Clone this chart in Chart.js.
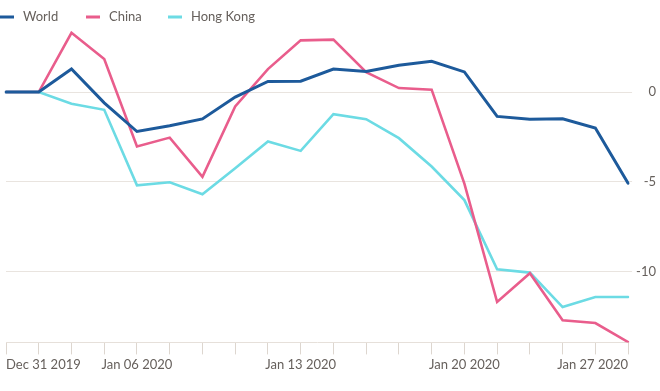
<!DOCTYPE html>
<html lang="en">
<head>
  <meta charset="UTF-8" />
  <title>World, China and Hong Kong</title>
  <script src="https://cdn.jsdelivr.net/npm/chart.js"></script>
  <style>
    html, body {
      margin: 0;
      padding: 0;
      background: #ffffff;
    }
    #wrap {
      width: 660px;
      height: 391px;
      position: relative;
    }
  </style>
</head>
<body>
  <div id="wrap">
    <canvas id="chart"></canvas>
  </div>

  <script>
    const dates = [
      "Dec 31 2019", "Jan 01 2020", "Jan 02 2020", "Jan 03 2020", "Jan 06 2020",
      "Jan 07 2020", "Jan 08 2020", "Jan 09 2020", "Jan 10 2020", "Jan 13 2020",
      "Jan 14 2020", "Jan 15 2020", "Jan 16 2020", "Jan 17 2020", "Jan 20 2020",
      "Jan 21 2020", "Jan 22 2020", "Jan 23 2020", "Jan 24 2020", "Jan 27 2020"
    ];
    const shownDates = ["Dec 31 2019", "Jan 06 2020", "Jan 13 2020", "Jan 20 2020", "Jan 27 2020"];

    const world = [0, 0, 1.28, -0.6, -2.2, -1.88, -1.5, -0.28, 0.59, 0.6,
                   1.28, 1.15, 1.49, 1.71, 1.12, -1.36, -1.51, -1.49, -2.01, -5.08];
    const china = [0, 0, 3.3, 1.84, -3.03, -2.54, -4.73, -0.8, 1.28, 2.88,
                   2.92, 1.1, 0.22, 0.13, -5.1, -11.7, -10.1, -12.72, -12.87, -13.93];
    const hongKong = [0, 0, -0.65, -0.99, -5.2, -5.03, -5.7, -4.25, -2.76, -3.28,
                      -1.23, -1.51, -2.57, -4.15, -6.02, -9.88, -10.06, -11.98, -11.42, -11.42];

    const yTicks = [-10, -5, 0];

    const textColor = "#66605c";
    const gridColor = "#e9e4df";
    const fontFamily = "Lato, 'Open Sans', sans-serif";

    // simple legend: short coloured bar then the series name
    const lineLegend = {
      id: "lineLegend",
      afterDraw(chart) {
        const ctx = chart.ctx;
        const xs = [0, 86, 168];
        ctx.save();
        ctx.font = "13px " + fontFamily;
        ctx.textBaseline = "middle";
        chart.data.datasets.forEach((ds, i) => {
          const x = xs[i];
          ctx.fillStyle = ds.borderColor;
          ctx.fillRect(x, 15.5, 14, 3);
          ctx.fillStyle = textColor;
          ctx.fillText(ds.label, x + 23, 17);
        });
        ctx.restore();
      }
    };

    new Chart(document.getElementById("chart"), {
      type: "line",
      data: {
        labels: dates,
        datasets: [
          { label: "World", data: world, borderColor: "#1d5a9b", borderWidth: 3 },
          { label: "China", data: china, borderColor: "#e95d8c", borderWidth: 2.6 },
          { label: "Hong Kong", data: hongKong, borderColor: "#6cdbe4", borderWidth: 2.6 }
        ]
      },
      options: {
        responsive: true,
        maintainAspectRatio: false,
        animation: false,
        layout: { padding: { left: 6, top: 31, right: 4, bottom: 15 } },
        elements: {
          point: { radius: 0 },
          line: { tension: 0, borderCapStyle: "round", borderJoinStyle: "miter" }
        },
        plugins: {
          legend: { display: false },
          tooltip: { enabled: false }
        },
        scales: {
          x: {
            type: "category",
            offset: false,
            grid: {
              drawOnChartArea: false,
              drawTicks: true,
              tickLength: 12,
              color: "#ddd6cf"
            },
            border: { display: true, color: "#e6e0da" },
            ticks: {
              autoSkip: false,
              maxRotation: 0,
              align: "inner",
              padding: 3,
              color: textColor,
              font: { family: fontFamily, size: 13 },
              callback(value) {
                const l = this.getLabelForValue(value);
                return shownDates.includes(l) ? l : "";
              }
            }
          },
          y: {
            position: "right",
            min: -13.95,
            max: 3.4,
            afterBuildTicks(scale) {
              scale.ticks = yTicks.map(v => ({ value: v }));
            },
            grid: { color: gridColor, tickLength: 4 },
            border: { display: false },
            ticks: {
              padding: 2,
              crossAlign: "far",
              color: textColor,
              font: { family: fontFamily, size: 13 }
            }
          }
        }
      },
      plugins: [lineLegend]
    });
  </script>
</body>
</html>
